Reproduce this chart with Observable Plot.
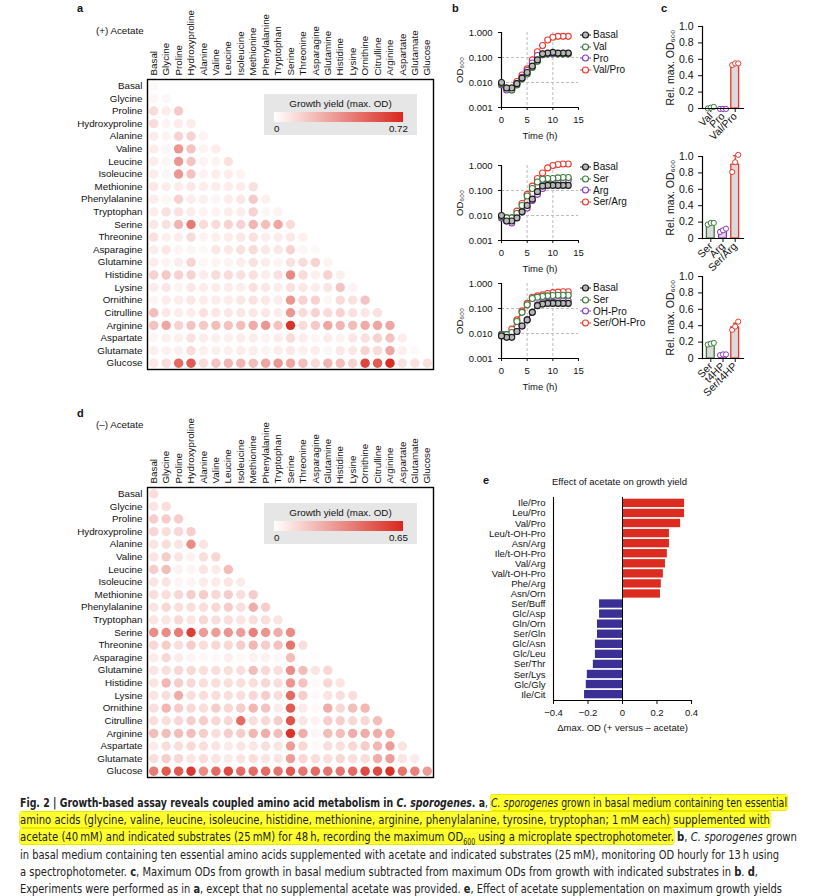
<!DOCTYPE html>
<html><head><meta charset="utf-8">
<script src="https://cdn.jsdelivr.net/npm/d3@7/dist/d3.min.js"></script>
<script src="https://cdn.jsdelivr.net/npm/@observablehq/plot@0.6/dist/plot.umd.min.js"></script>
<style>
body{margin:0;background:#fff;}
#fig{position:relative;width:819px;height:896px;overflow:hidden;font-family:"Liberation Sans",Arial,sans-serif;color:#111;background:#fff;}
#fig svg{position:absolute;overflow:visible;}
.t{position:absolute;white-space:nowrap;line-height:1;}
.plab{position:absolute;font-weight:bold;font-size:11px;line-height:1;}
.leg{position:absolute;background:#e6e6e6;width:153px;height:41px;font-size:9.8px;}
.cap{position:absolute;left:20px;white-space:nowrap;font-family:"Liberation Sans Narrow","DejaVu Sans Condensed","Liberation Sans",sans-serif;font-size:13px;line-height:16px;color:#222;}
.cap span.in{display:inline-block;transform-origin:0 50%;}
.hl{background:#ffff2e;border-radius:3px;box-shadow:0 0 0 1px #e8e800;}
.gl{position:absolute;font-size:10px;}
.gl div{height:11.7px;display:flex;align-items:center;}
</style></head><body><div id="fig"></div>
<script>
// ---------- DATA ----------
const aminoAcids = ["Basal","Glycine","Proline","Hydroxyproline","Alanine","Valine","Leucine","Isoleucine","Methionine","Phenylalanine","Tryptophan","Serine","Threonine","Asparagine","Glutamine","Histidine","Lysine","Ornithine","Citrulline","Arginine","Aspartate","Glutamate","Glucose"];

// panel a: (+) acetate, lower triangle, row i has i+1 values
const yieldPlusAcetate = [
 [0.02],
 [0.03,0.03],
 [0.12,0.06,0.18],
 [0.12,0.04,0.06,0.06],
 [0.06,0.04,0.15,0.15,0.04],
 [0.06,0.03,0.35,0.2,0.04,0.06],
 [0.06,0.03,0.35,0.2,0.04,0.04,0.1],
 [0.06,0.03,0.35,0.2,0.04,0.06,0.06,0.04],
 [0.08,0.06,0.06,0.08,0.06,0.06,0.06,0.06,0.1],
 [0.06,0.03,0.15,0.06,0.05,0.03,0.06,0.08,0.18,0.05],
 [0.06,0.1,0.1,0.06,0.04,0.04,0.06,0.06,0.15,0.03,0.04],
 [0.08,0.1,0.25,0.45,0.12,0.12,0.15,0.15,0.25,0.22,0.3,0.12],
 [0.1,0.05,0.06,0.12,0.04,0.05,0.06,0.08,0.1,0.06,0.06,0.08,0.05],
 [0.06,0.08,0.04,0.03,0.02,0.08,0.08,0.1,0.12,0.08,0.08,0.15,0.03,0.02],
 [0.06,0.04,0.06,0.15,0.03,0.04,0.04,0.06,0.1,0.06,0.04,0.1,0.12,0.15,0.04],
 [0.15,0.18,0.15,0.15,0.06,0.12,0.12,0.1,0.1,0.06,0.1,0.4,0.12,0.05,0.15,0.05],
 [0.06,0.08,0.04,0.08,0.06,0.06,0.06,0.06,0.1,0.08,0.06,0.1,0.08,0.06,0.08,0.2,0.04],
 [0.03,0.06,0.06,0.08,0.06,0.06,0.06,0.08,0.1,0.08,0.06,0.35,0.15,0.15,0.03,0.12,0.1,0.2],
 [0.22,0.08,0.06,0.06,0.1,0.08,0.08,0.08,0.08,0.08,0.06,0.35,0.12,0.15,0.12,0.15,0.1,0.08,0.1],
 [0.2,0.3,0.15,0.2,0.18,0.22,0.2,0.22,0.28,0.35,0.2,0.68,0.12,0.18,0.3,0.25,0.22,0.28,0.3,0.3],
 [0.03,0.05,0.05,0.1,0.06,0.05,0.05,0.06,0.06,0.04,0.06,0.12,0.06,0.03,0.06,0.04,0.08,0.1,0.15,0.2,0.06],
 [0.05,0.05,0.05,0.12,0.05,0.05,0.05,0.06,0.06,0.04,0.06,0.08,0.05,0.06,0.03,0.08,0.08,0.15,0.12,0.3,0.05,0.02],
 [0.08,0.12,0.5,0.55,0.12,0.2,0.25,0.25,0.22,0.3,0.35,0.3,0.22,0.12,0.25,0.22,0.15,0.62,0.55,0.7,0.1,0.1,0.1]
];
const maxPlus = 0.72;

// panel d: (-) acetate
const yieldMinusAcetate = [
 [0.1],
 [0.08,0.1],
 [0.15,0.15,0.15],
 [0.12,0.1,0.12,0.15],
 [0.08,0.1,0.08,0.35,0.08],
 [0.08,0.15,0.08,0.04,0.1,0.12],
 [0.15,0.2,0.04,0.03,0.08,0.06,0.2],
 [0.08,0.08,0.03,0.03,0.06,0.06,0.08,0.06],
 [0.1,0.1,0.12,0.15,0.15,0.12,0.15,0.1,0.15],
 [0.08,0.12,0.1,0.1,0.1,0.12,0.15,0.1,0.25,0.15],
 [0.08,0.08,0.12,0.08,0.12,0.1,0.1,0.08,0.1,0.1,0.08],
 [0.35,0.35,0.4,0.58,0.3,0.3,0.32,0.3,0.38,0.32,0.25,0.35],
 [0.12,0.15,0.1,0.15,0.1,0.12,0.12,0.15,0.22,0.15,0.18,0.42,0.1],
 [0.06,0.12,0.06,0.03,0.02,0.02,0.05,0.02,0.04,0.04,0.02,0.2,0.01,0.01],
 [0.08,0.1,0.12,0.12,0.1,0.1,0.1,0.1,0.2,0.12,0.1,0.35,0.2,0.08,0.12],
 [0.08,0.22,0.15,0.12,0.1,0.1,0.1,0.1,0.1,0.12,0.1,0.32,0.18,0.02,0.12,0.08],
 [0.08,0.1,0.25,0.1,0.1,0.1,0.1,0.1,0.12,0.15,0.1,0.45,0.15,0.02,0.08,0.1,0.1],
 [0.1,0.22,0.15,0.12,0.1,0.15,0.12,0.15,0.22,0.18,0.06,0.5,0.06,0.02,0.25,0.12,0.2,0.22],
 [0.1,0.1,0.12,0.15,0.15,0.12,0.12,0.45,0.1,0.12,0.15,0.52,0.08,0.04,0.15,0.15,0.12,0.12,0.2],
 [0.2,0.2,0.2,0.2,0.15,0.1,0.15,0.15,0.22,0.25,0.2,0.62,0.25,0.03,0.2,0.2,0.25,0.25,0.25,0.25],
 [0.06,0.1,0.1,0.12,0.1,0.08,0.06,0.08,0.08,0.1,0.08,0.3,0.12,0.02,0.1,0.1,0.12,0.15,0.22,0.3,0.08],
 [0.1,0.15,0.12,0.08,0.1,0.08,0.06,0.08,0.1,0.08,0.08,0.3,0.12,0.1,0.1,0.12,0.1,0.1,0.25,0.3,0.08,0.06],
 [0.4,0.5,0.5,0.6,0.35,0.45,0.55,0.45,0.45,0.45,0.42,0.5,0.42,0.45,0.42,0.42,0.45,0.55,0.55,0.62,0.42,0.38,0.3]
];
const maxMinus = 0.65;

// panel b: growth curves, OD600 hourly 0..13 h
const hours = [0,1,2,3,4,5,6,7,8,9,10,11,12,13];
const b1Names = ["Basal","Val","Pro","Val/Pro"];
const b1Basal  = [0.010,0.006,0.006,0.009,0.015,0.025,0.045,0.08,0.14,0.15,0.16,0.15,0.15,0.15];
const b1Val    = [0.009,0.006,0.005,0.008,0.014,0.022,0.040,0.07,0.13,0.14,0.15,0.14,0.14,0.14];
const b1Pro    = [0.008,0.005,0.005,0.009,0.016,0.030,0.060,0.12,0.13,0.14,0.14,0.14,0.14,0.14];
const b1ValPro = [0.009,0.006,0.006,0.011,0.020,0.035,0.080,0.17,0.30,0.50,0.65,0.70,0.70,0.70];

const b2Names = ["Basal","Ser","Arg","Ser/Arg"];
const b2Basal  = [0.010,0.006,0.006,0.008,0.014,0.025,0.045,0.09,0.15,0.16,0.16,0.16,0.16,0.16];
const b2Ser    = [0.009,0.008,0.008,0.012,0.025,0.060,0.120,0.22,0.28,0.30,0.30,0.32,0.33,0.33];
const b2Arg    = [0.008,0.006,0.005,0.009,0.014,0.020,0.040,0.07,0.12,0.18,0.22,0.25,0.26,0.26];
const b2SerArg = [0.009,0.008,0.008,0.015,0.030,0.070,0.150,0.30,0.50,0.80,1.00,1.10,1.15,1.15];

const b3Names = ["Basal","Ser","OH-Pro","Ser/OH-Pro"];
const b3Basal   = [0.008,0.007,0.007,0.012,0.020,0.035,0.070,0.13,0.15,0.16,0.16,0.16,0.16,0.16];
const b3Ser     = [0.009,0.009,0.011,0.030,0.070,0.140,0.250,0.28,0.30,0.32,0.33,0.34,0.34,0.34];
const b3OHPro   = [0.009,0.009,0.009,0.012,0.020,0.035,0.070,0.14,0.17,0.18,0.18,0.19,0.20,0.20];
const b3SerOHPro= [0.009,0.009,0.015,0.035,0.080,0.160,0.280,0.32,0.35,0.40,0.43,0.45,0.47,0.47];

const seriesColors = ["#1a1a1a","#3b7a3b","#8a3bbd","#e8392e"];

// panel c: relative max OD600
const c1Cats = ["Val","Pro","Val/Pro"];
const c1Mean = [0.01,-0.005,0.54];
const c1Sd   = [0.01,0.002,0.01];
const c1Reps = [[0.0,0.01,0.02],[-0.005,-0.005,-0.005],[0.53,0.55,0.55]];
const c2Cats = ["Ser","Arg","Ser/Arg"];
const c2Mean = [0.18,0.10,0.90];
const c2Sd   = [0.01,0.02,0.11];
const c2Reps = [[0.17,0.19,0.19],[0.08,0.10,0.12],[0.81,0.93,1.02]];
const c3Cats = ["Ser","t4HP","Ser/t4HP"];
const c3Mean = [0.18,0.05,0.38];
const c3Sd   = [0.01,0.01,0.05];
const c3Reps = [[0.17,0.18,0.19],[0.04,0.05,0.05],[0.35,0.39,0.45]];
const barColors = ["#3b7a3b","#8a3bbd","#e8392e"];

// panel e: effect of acetate
const ePairs = ["Ile/Pro","Leu/Pro","Val/Pro","Leu/t-OH-Pro","Asn/Arg","Ile/t-OH-Pro","Val/Arg","Val/t-OH-Pro","Phe/Arg","Asn/Orn","Ser/Buff","Glc/Asp","Gln/Orn","Ser/Gln","Glc/Asn","Glc/Leu","Ser/Thr","Ser/Lys","Glc/Gly","Ile/Cit"];
const eDelta = [0.36,0.36,0.337,0.272,0.272,0.26,0.249,0.237,0.225,0.22,-0.133,-0.133,-0.145,-0.145,-0.157,-0.157,-0.169,-0.204,-0.21,-0.22];

// ---------- DRAW ----------
const fig = document.getElementById("fig");
const FONT = "'Liberation Sans', Arial, sans-serif";
function place(el, left, top){ el.style.left = left+"px"; el.style.top = top+"px"; fig.appendChild(el); return el; }
function text(str, left, top, size, extra){ const d=document.createElement("div"); d.className="t"; d.innerHTML=str; d.style.fontSize=size+"px"; if(extra) Object.assign(d.style, extra); return place(d,left,top); }
function plab(ch, left, top){ const d=document.createElement("div"); d.className="plab"; d.textContent=ch; return place(d,left,top); }

const heatRed = "#d8281e";
function heatmap(values, maxVal, top, frameH){
  const data = [];
  values.forEach((row,i)=>row.forEach((v,j)=>data.push({row:aminoAcids[i], col:aminoAcids[j], v})));
  const svg = Plot.plot({
    width: 370, height: 79+frameH+3, marginLeft: 77, marginRight: 7, marginTop: 79, marginBottom: 3,
    style: {fontFamily: FONT, fontSize: "9.8px", color: "#111", background: "transparent"},
    x: {type: "point", domain: aminoAcids, padding: 0.5, round: false},
    y: {type: "point", domain: aminoAcids, padding: 0.5, round: false},
    color: {type: "linear", domain: [0, maxVal], range: ["#ffffff", heatRed]},
    marks: [
      Plot.axisX({anchor: "top", tickSize: 0, tickPadding: 4, tickRotate: -90, textAnchor: "start", label: null}),
      Plot.axisY({anchor: "left", tickSize: 0, tickPadding: 5, label: null}),
      Plot.dot(data, {x: "col", y: "row", r: 4.7, fill: "v"}),
      Plot.frame({stroke: "#000", strokeWidth: 1.4})
    ]
  });
  return place(svg, 70, top);
}
function heatLegend(left, top, maxVal){
  const d = document.createElement("div"); d.className="leg";
  d.innerHTML = `<div class="t" style="left:0;width:153px;text-align:center;top:5px;font-size:9.8px">Growth yield (max. OD)</div>
  <div style="position:absolute;left:10px;top:18px;width:129px;height:10px;background:linear-gradient(to right,#ffffff,${heatRed})"></div>
  <div class="t" style="left:10px;top:30px;font-size:9.8px">0</div>
  <div class="t" style="right:9px;top:30px;font-size:9.8px">${maxVal}</div>`;
  return place(d, left, top);
}

// panel a
plab("a", 77, 3);
text("(+) Acetate", 96, 26, 9.8);
heatmap(yieldPlusAcetate, maxPlus, 0, 290);
heatLegend(264, 94, maxPlus);

// panel d
plab("d", 77, 408);
text("(–) Acetate", 96, 420, 9.8);
heatmap(yieldMinusAcetate, maxMinus, 408, 290);
heatLegend(264, 503, maxMinus);

// panel b
function growthPlot(names, series, top, legendTop){
  const rows = [];
  names.forEach((n,k)=>series[k].forEach((v,i)=>rows.push({name:n, t:hours[i], v})));
  const ordered = rows.slice().reverse();
  const svg = Plot.plot({
    width: 220, height: 127, marginLeft: 61, marginRight: 82, marginTop: 12, marginBottom: 40,
    style: {fontFamily: FONT, fontSize: "9.5px", color: "#111", background: "transparent"},
    x: {domain: [0, 15]},
    y: {type: "log", domain: [0.001, 1]},
    color: {domain: names, range: seriesColors},
    marks: [
      Plot.gridX([5,10], {stroke: "#bdbdbd", strokeOpacity: 1, strokeDasharray: "3,2"}),
      Plot.gridY([0.01,0.1], {stroke: "#bdbdbd", strokeOpacity: 1, strokeDasharray: "3,2"}),
      Plot.axisX({ticks: [0,5,10,15], tickSize: 3, tickFormat: "d", label: "Time (h)", labelAnchor: "center", labelOffset: 31, labelArrow: "none"}),
      Plot.axisY({ticks: [0.001,0.01,0.1,1], tickSize: 3, tickFormat: ".3f", label: "OD₆₀₀", labelAnchor: "center", labelOffset: 45, labelArrow: "none"}),
      Plot.ruleX([0], {stroke: "#000", strokeWidth: 1.2}),
      Plot.ruleY([0.001], {stroke: "#000", strokeWidth: 1.2}),
      Plot.line(ordered, {x: "t", y: "v", z: "name", stroke: "name", strokeWidth: 1}),
      Plot.dot(ordered.filter(d=>d.name!=="Basal"), {x: "t", y: "v", stroke: "name", fill: "white", r: 3, strokeWidth: 1.1}),
      Plot.dot(ordered.filter(d=>d.name==="Basal"), {x: "t", y: "v", stroke: "name", fill: "#b8b8b8", r: 3, strokeWidth: 1.1})
    ]
  });
  place(svg, 440, top);
  const lg = document.createElement("div"); lg.className="gl";
  lg.innerHTML = names.map((n,k)=>`<div><svg width="11" height="8" style="position:static;margin-right:2px"><line x1="0" x2="11" y1="4" y2="4" stroke="${seriesColors[k]}"/><circle cx="5.5" cy="4" r="3" fill="${k===0?'#b8b8b8':'white'}" stroke="${seriesColors[k]}" stroke-width="1.1"/></svg>${n}</div>`).join("");
  place(lg, 580, legendTop);
}
plab("b", 452, 3);
growthPlot(b1Names, [b1Basal,b1Val,b1Pro,b1ValPro], 20, 29);
growthPlot(b2Names, [b2Basal,b2Ser,b2Arg,b2SerArg], 153, 161);
growthPlot(b3Names, [b3Basal,b3Ser,b3OHPro,b3SerOHPro], 271, 282);

// panel c
function barPlot(cats, means, sds, reps, top){
  const bars = cats.map((c,i)=>({cat:c, mean:means[i], hi:means[i]+sds[i]}));
  const pts = cats.flatMap((c,i)=>reps[i].map((v,k)=>({cat:c, v, k})));
  const errs = bars.filter(d=>d.hi-d.mean>0.02);
  const svg = Plot.plot({
    width: 160, height: 124, marginLeft: 52, marginRight: 67, marginTop: 12, marginBottom: 30,
    style: {fontFamily: FONT, fontSize: "10.5px", color: "#111", background: "transparent"},
    x: {domain: cats, padding: 0.36, round: false},
    y: {domain: [0, 1]},
    color: {domain: cats, range: barColors},
    marks: [
      Plot.axisY({ticks: [0,0.2,0.4,0.6,0.8,1], tickSize: 4, tickFormat: d=>d===0?"0":d.toFixed(1), label: "Rel. max. OD₆₀₀", labelAnchor: "center", labelOffset: 36, labelArrow: "none"}),
      Plot.axisX({tickRotate: -45, tickSize: 4, tickPadding: 2, label: null}),
      Plot.barY(bars, {x: "cat", y: "mean", fill: "#dadada", stroke: "cat", strokeWidth: 1.3}),
      Plot.ruleX(errs, {x: "cat", y1: "mean", y2: "hi", stroke: "cat", strokeWidth: 1.2}),
      Plot.tickY(errs, {x: "cat", y: "hi", stroke: "cat", strokeWidth: 1.2, insetLeft: 2, insetRight: 2}),
      Plot.dot(pts.filter(d=>d.k===0), {x: "cat", y: "v", dx: -3, r: 2.6, stroke: "cat", fill: "white", strokeWidth: 1}),
      Plot.dot(pts.filter(d=>d.k===1), {x: "cat", y: "v", dx: 0, r: 2.6, stroke: "cat", fill: "white", strokeWidth: 1}),
      Plot.dot(pts.filter(d=>d.k===2), {x: "cat", y: "v", dx: 3, r: 2.6, stroke: "cat", fill: "white", strokeWidth: 1}),
      Plot.frame({anchor: "left", stroke: "#000", strokeWidth: 1.2}),
      Plot.frame({anchor: "bottom", stroke: "#000", strokeWidth: 1.2})
    ]
  });
  return place(svg, 650, top);
}
plab("c", 661, 3);
barPlot(c1Cats, c1Mean, c1Sd, c1Reps, 14);
barPlot(c2Cats, c2Mean, c2Sd, c2Reps, 144);
barPlot(c3Cats, c3Mean, c3Sd, c3Reps, 264);

// panel e
plab("e", 483, 475);
text("Effect of acetate on growth yield", 552, 477, 9.5);
{
  const data = ePairs.map((p,i)=>({pair:p, delta:eDelta[i], sign: eDelta[i]>0?"pos":"neg"}));
  const svg = Plot.plot({
    width: 250, height: 265, marginLeft: 83, marginRight: 29, marginTop: 27, marginBottom: 35,
    style: {fontFamily: FONT, fontSize: "9.5px", color: "#111", background: "transparent"},
    x: {domain: [-0.4, 0.4]},
    y: {domain: ePairs, padding: 0.17, round: false},
    color: {domain: ["pos","neg"], range: ["#dc2b1f","#3b2e94"]},
    marks: [
      Plot.axisX({ticks: [-0.4,-0.2,0,0.2,0.4], tickSize: 4, tickFormat: d=>d===0?"0":d3.format(".1f")(d).replace("-","−"), label: "Δmax. OD (+ versus – acetate)", labelAnchor: "center", labelOffset: 30, labelArrow: "none"}),
      Plot.axisY({tickSize: 0, tickPadding: 8, label: null}),
      Plot.barX(data, {x: "delta", y: "pair", fill: "sign"}),
      Plot.ruleX([0], {stroke: "#000", strokeWidth: 1}),
      Plot.frame({anchor: "left", stroke: "#000", strokeWidth: 1.1}),
      Plot.frame({anchor: "bottom", stroke: "#000", strokeWidth: 1.1})
    ]
  });
  place(svg, 470, 470);
}

// caption
const capLines = [
 [795, 767, `<b>Fig. 2 | Growth-based assay reveals coupled amino acid metabolism in <i>C. sporogenes</i>. a</b>, <span class="hl"><i>C. sporogenes</i> grown in basal medium containing ten essential</span>`],
 [812, 750, `<span class="hl">amino acids (glycine, valine, leucine, isoleucine, histidine, methionine, arginine, phenylalanine, tyrosine, tryptophan; 1&#8201;mM each) supplemented with</span>`],
 [829, 777, `<span class="hl">acetate (40&#8201;mM) and indicated substrates (25&#8201;mM) for 48&#8201;h, recording the maximum OD<sub style="font-size:8px">600</sub> using a microplate spectrophotometer.</span> <b>b</b>, <i>C. sporogenes</i> grown`],
 [847, 759, `in basal medium containing ten essential amino acids supplemented with acetate and indicated substrates (25&#8201;mM), monitoring OD hourly for 13&#8201;h using`],
 [864, 738, `a spectrophotometer. <b>c</b>, Maximum ODs from growth in basal medium subtracted from maximum ODs from growth with indicated substrates in <b>b</b>. <b>d</b>,`],
 [881, 762, `Experiments were performed as in <b>a</b>, except that no supplemental acetate was provided. <b>e</b>, Effect of acetate supplementation on maximum growth yields`]
];
capLines.forEach(([top, w, html])=>{
  const d = document.createElement("div"); d.className="cap";
  d.innerHTML = `<span class="in">${html}</span>`;
  place(d, 20, top);
  const inner = d.firstChild;
  const cur = inner.getBoundingClientRect().width;
  inner.style.transform = `scaleX(${w/cur})`;
});
</script>
</body></html>
